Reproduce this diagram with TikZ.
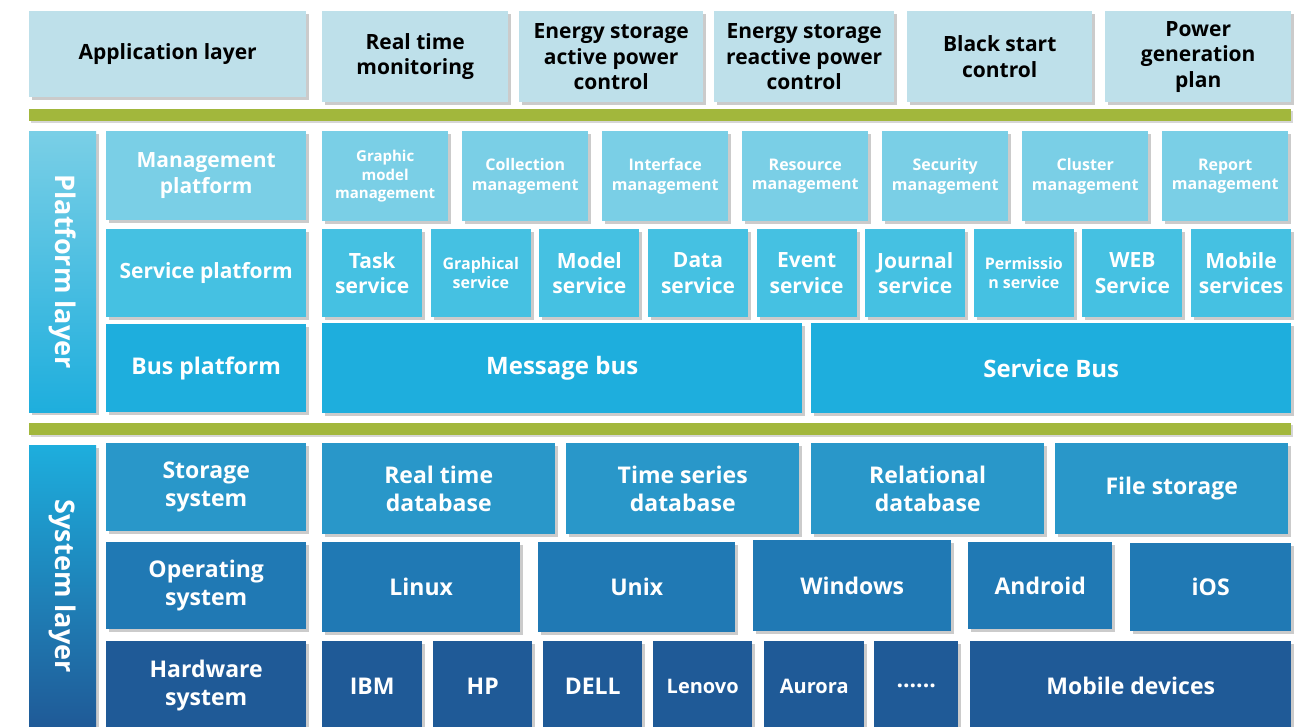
\documentclass[tikz,border=0pt]{standalone}
\usepackage{fontspec}
\setmainfont{Open Sans}
\usetikzlibrary{shadows}
\definecolor{applight}{RGB}{190,224,234}
\definecolor{barolive}{RGB}{162,183,60}
\definecolor{mgmtblue}{RGB}{122,207,230}
\definecolor{servblue}{RGB}{69,193,226}
\definecolor{busblue}{RGB}{30,174,221}
\definecolor{storblue}{RGB}{41,151,201}
\definecolor{osblue}{RGB}{32,121,180}
\definecolor{hwblue}{RGB}{31,90,151}
\newcommand{\fs}[1]{\fontsize{#1}{1.22\dimexpr#1pt\relax}\selectfont}
\begin{document}
\begin{tikzpicture}[x=1pt,y=-1pt,
    cell/.style={anchor=north west,inner sep=0pt,align=center,text=white,
      font=\bfseries\fs{21},
      drop shadow={shadow xshift=3pt,shadow yshift=-3pt,fill=black!40,opacity=.5}},
    app/.style={cell,fill=applight,text=black},
    mgmt/.style={cell,fill=mgmtblue,minimum width=126pt,minimum height=90pt,font=\bfseries\fs{16}},
    serv/.style={cell,fill=servblue,minimum width=100pt,minimum height=88pt},
    bus/.style={cell,fill=busblue,minimum height=90pt,font=\bfseries\fs{24}},
    stor/.style={cell,fill=storblue,minimum width=233pt,minimum height=91pt,font=\bfseries\fs{23}},
    os/.style={cell,fill=osblue,font=\bfseries\fs{23}},
    hw/.style={cell,fill=hwblue,minimum height=90pt,font=\bfseries\fs{23}},
    head/.style={cell,minimum width=200pt,font=\bfseries\fs{21}},
    sidebar/.style={cell,minimum width=67pt},
    greenbar/.style={fill=barolive,drop shadow={shadow xshift=2pt,shadow yshift=-2pt,fill=black!40,opacity=.4}}]
  \clip (0,0) rectangle (1300,727);
  \useasboundingbox (0,0) rectangle (1300,727);
  \fill[white] (0,0) rectangle (1300,727);

  % application layer
  \node[app,minimum width=277pt,minimum height=86pt] (applayer) at (29,11) {Application layer};
  \node[app,minimum width=186pt,minimum height=91pt] (monitor) at (322,11) {Real time\\monitoring};
  \node[app,minimum width=184pt,minimum height=91pt] (activectl) at (519,11) {Energy storage\\active power\\control};
  \node[app,minimum width=180pt,minimum height=91pt] (reactivectl) at (714,11) {Energy storage\\reactive power\\control};
  \node[app,minimum width=185pt,minimum height=91pt] (blackstart) at (907,11) {Black start\\control};
  \node[app,minimum width=186pt,minimum height=91pt] (genplan) at (1105,11) {Power\\generation\\plan};

  \fill[greenbar] (29,109) rectangle (1291,121);

  % platform layer
  \node[sidebar,minimum height=281pt,top color=mgmtblue,bottom color=busblue] (platlayer) at (29,131) {};
  \node[rotate=-90,text=white,font=\bfseries\fs{27}] (platlabel) at (platlayer.center) {Platform layer};

  \node[head,fill=mgmtblue,minimum height=89pt] (mgmtplat) at (106,131) {Management\\platform};
  \node[mgmt,font=\bfseries\fs{15}] (graphmgmt) at (322,131) {Graphic\\model\\management};
  \node[mgmt] (collmgmt) at (462,131) {Collection\\management};
  \node[mgmt] (intfmgmt) at (602,131) {Interface\\management};
  \node[mgmt] (resmgmt) at (742,131) {Resource\\management};
  \node[mgmt] (secmgmt) at (882,131) {Security\\management};
  \node[mgmt] (clusmgmt) at (1022,131) {Cluster\\management};
  \node[mgmt] (repmgmt) at (1162,131) {Report\\management};

  \node[head,fill=servblue,minimum height=88pt] (servplat) at (106,229) {Service platform};
  \node[serv] (tasksrv) at (322,229) {Task\\service};
  \node[serv,font=\bfseries\fs{16}] (graphsrv) at (430.6,229) {Graphical\\service};
  \node[serv] (modelsrv) at (539.2,229) {Model\\service};
  \node[serv] (datasrv) at (647.8,229) {Data\\service};
  \node[serv] (eventsrv) at (756.4,229) {Event\\service};
  \node[serv] (journsrv) at (865,229) {Journal\\service};
  \node[serv,font=\bfseries\fs{16}] (permsrv) at (973.6,229) {Permissio\\n service};
  \node[serv] (websrv) at (1082.2,229) {WEB\\Service};
  \node[serv] (mobsrv) at (1190.8,229) {Mobile\\services};

  \node[head,fill=busblue,minimum height=88pt,font=\bfseries\fs{23}] (busplat) at (106,324) {Bus platform};
  \node[bus,minimum width=480pt] (msgbus) at (322,323) {Message bus};
  \node[bus,minimum width=480pt] (srvbus) at (811,323) {Service Bus};

  \fill[greenbar] (29,423) rectangle (1291,435);

  % system layer
  \node[sidebar,minimum height=282pt,top color=busblue,bottom color=hwblue] (syslayer) at (29,445) {};
  \node[rotate=-90,text=white,font=\bfseries\fs{27}] (syslabel) at (syslayer.center) {System layer};

  \node[head,fill=storblue,minimum height=88pt,font=\bfseries\fs{23}] (storsys) at (106,443) {Storage\\system};
  \node[stor] (rtdb) at (322,443) {Real time\\database};
  \node[stor] (tsdb) at (566,443) {Time series\\database};
  \node[stor] (reldb) at (811,443) {Relational\\database};
  \node[stor] (filestor) at (1055,443) {File storage};

  \node[head,fill=osblue,minimum height=87pt,font=\bfseries\fs{23}] (opsys) at (106,542) {Operating\\system};
  \node[os,minimum width=198pt,minimum height=90pt] (linux) at (322,542) {Linux};
  \node[os,minimum width=197pt,minimum height=90pt] (unix) at (538,542) {Unix};
  \node[os,minimum width=198pt,minimum height=91pt] (windows) at (753,540) {Windows};
  \node[os,minimum width=144pt,minimum height=87pt] (android) at (968,542) {Android};
  \node[os,minimum width=161pt,minimum height=88pt] (ios) at (1130,543) {iOS};

  \node[head,fill=hwblue,minimum height=88pt,font=\bfseries\fs{23}] (hwsys) at (106,641) {Hardware\\system};
  \node[hw,minimum width=100pt] (ibm) at (322,641) {IBM};
  \node[hw,minimum width=99pt] (hp) at (433,641) {HP};
  \node[hw,minimum width=99pt] (dell) at (543,641) {DELL};
  \node[hw,minimum width=99pt,font=\bfseries\fs{20}] (lenovo) at (653,641) {Lenovo};
  \node[hw,minimum width=100pt,font=\bfseries\fs{20}] (aurora) at (764,641) {Aurora};
  \node[hw,minimum width=84pt] (more) at (874,641) {......};
  \node[hw,minimum width=321pt] (mobdev) at (970,641) {Mobile devices};
\end{tikzpicture}
\end{document}
